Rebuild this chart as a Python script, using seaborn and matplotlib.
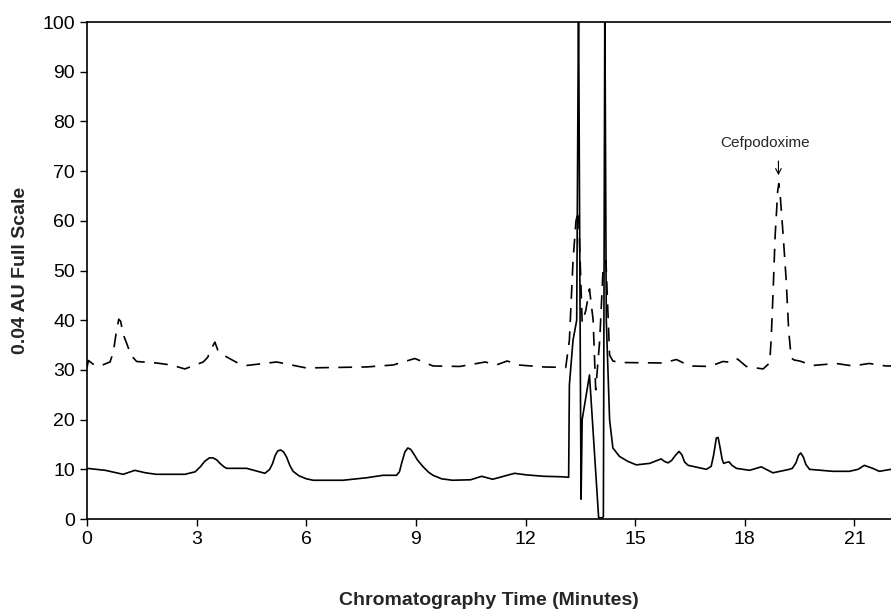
import numpy as np
import pandas as pd
import matplotlib
matplotlib.use("Agg")
import matplotlib.pyplot as plt
import seaborn as sns

# sample trace (solid)
time_solid = [0, 0.5, 0.99, 1.15, 1.31, 1.6, 1.9, 2.68, 2.96, 3.1, 3.22, 3.35, 3.45, 3.55,
              3.64, 3.75, 3.82, 4.37, 4.87, 5.0, 5.08, 5.15, 5.22, 5.3, 5.38, 5.46, 5.55,
              5.64, 5.8, 6.0, 6.19, 7.0, 7.65, 8.1, 8.47, 8.55, 8.62, 8.7, 8.78, 8.86, 8.95,
              9.05, 9.2, 9.35, 9.47, 9.7, 10.0, 10.5, 10.8, 11.1, 11.4, 11.7, 12.0, 12.5,
              13.0, 13.18, 13.2, 13.3, 13.4, 13.45, 13.5, 13.52, 13.55, 13.75, 14.0, 14.1,
              14.13, 14.17, 14.21, 14.3, 14.39, 14.57, 14.8, 15.03, 15.4, 15.71, 15.8, 15.9,
              16.0, 16.1, 16.2, 16.28, 16.35, 16.45, 16.95, 17.08, 17.15, 17.22, 17.27,
              17.32, 17.38, 17.42, 17.5, 17.57, 17.65, 17.77, 18.13, 18.45, 18.77, 19.22,
              19.3, 19.4, 19.47, 19.53, 19.6, 19.67, 19.77, 20.41, 20.86, 21.1, 21.27,
              21.5, 21.68, 22.0]
abs_solid = [10.2, 9.8, 9.0, 9.4, 9.8, 9.3, 9.0, 9.0, 9.5, 10.5, 11.6, 12.3, 12.3, 11.9,
             11.2, 10.5, 10.2, 10.2, 9.2, 10.0, 11.2, 12.8, 13.7, 13.9, 13.5, 12.5, 10.8,
             9.6, 8.7, 8.1, 7.8, 7.8, 8.3, 8.8, 8.8, 9.5, 11.5, 13.5, 14.3, 14.0, 13.0,
             11.8, 10.5, 9.4, 8.8, 8.1, 7.8, 7.9, 8.6, 8.0, 8.6, 9.2, 8.9, 8.6,
             8.5, 8.4, 27.0, 36.0, 40.0, 105.0, 30.0, 4.0, 20.0, 29.0, 0.3, 0.2,
             0.5, 105.0, 40.0, 20.0, 14.3, 12.6, 11.6, 10.9, 11.2, 12.1, 11.6, 11.3,
             11.8, 12.8, 13.6, 12.9, 11.5, 10.8, 10.0, 10.6, 13.0, 16.3, 16.4,
             14.5, 12.0, 11.2, 11.4, 11.5, 10.8, 10.2, 9.8, 10.5, 9.3, 10.0,
             10.2, 11.3, 12.8, 13.3, 12.5, 11.0, 10.0, 9.6, 9.6, 10.0, 10.8,
             10.2, 9.6, 10.0]

# standard trace (dashed)
time_dashed = [0, 0.04, 0.2, 0.36, 0.63, 0.72, 0.8, 0.87, 0.92, 1.0, 1.09, 1.2, 1.36, 1.9,
               2.3, 2.68, 3.18, 3.3, 3.42, 3.5, 3.58, 3.73, 3.9, 4.1, 4.37, 5.19, 6.0, 7.65,
               8.38, 8.97, 9.47, 10.2, 10.9, 11.2, 11.5, 11.8, 12.5, 13.1, 13.2, 13.3, 13.38,
               13.45, 13.55, 13.65, 13.75, 13.85, 13.92, 14.03, 14.12, 14.2, 14.3, 14.39,
               14.57, 15.76, 16.13, 16.49, 17.04, 17.4, 17.68, 17.8, 18.04, 18.5, 18.68,
               18.72, 18.77, 18.83, 18.9, 18.93, 18.97, 19.05, 19.13, 19.2, 19.27, 19.35,
               19.5, 19.86, 20.5, 20.96, 21.4, 21.86, 22.0]
abs_dashed = [30.5, 31.9, 31.0, 30.8, 31.6, 33.5, 37.5, 40.2, 39.8, 37.0, 35.3, 33.0, 31.7,
              31.4, 31.0, 30.2, 31.6, 32.5, 34.5, 35.6, 34.0, 33.0, 32.3, 31.5, 30.9, 31.6,
              30.4, 30.6, 31.0, 32.3, 30.8, 30.7, 31.6, 31.0, 31.8, 31.0, 30.6, 30.5, 36.0,
              52.0, 60.0, 62.0, 39.5, 42.0, 46.3, 40.0, 26.0, 36.0, 50.0, 52.0, 33.0, 31.8,
              31.5, 31.4, 32.1, 30.8, 30.7, 31.7, 31.5, 32.2, 30.7, 30.2, 31.4,
              36.0, 45.0, 57.0, 66.0, 67.5, 65.0, 57.0, 48.3, 38.0, 32.4, 32.0,
              31.8, 30.9, 31.3, 30.8, 31.3, 30.8, 30.8]

xticks = [0, 3, 6, 9, 12, 15, 18, 21]
yticks = list(range(0, 101, 10))

sns.set_style("ticks")
plt.rcParams['font.family'] = ['Liberation Sans', 'DejaVu Sans']

fig = plt.figure(figsize=(8.91, 6.13), dpi=100)
ax = fig.add_axes([0.0976, 0.1533, 0.9024, 0.8107])

df_s = pd.DataFrame({'t': time_solid, 'a': abs_solid})
df_d = pd.DataFrame({'t': time_dashed, 'a': abs_dashed})
sns.lineplot(data=df_s, x='t', y='a', ax=ax, color='black', linewidth=1.2,
             estimator=None, sort=False)
sns.lineplot(data=df_d, x='t', y='a', ax=ax, color='black', linewidth=1.2,
             estimator=None, sort=False, linestyle=(0, (8.3, 5.6)))

ax.set_xlim(0, 22)
ax.set_ylim(0, 100)
ax.set_xticks(xticks)
ax.set_yticks(yticks)
ax.tick_params(labelsize=14, length=5, width=1, colors='black')
ax.spines['right'].set_visible(False)
for s in ['left', 'bottom', 'top']:
    ax.spines[s].set_color('black')
    ax.spines[s].set_linewidth(1.2)

ax.set_xlabel('Chromatography Time (Minutes)', fontsize=14, fontweight='bold', labelpad=32)
ax.set_ylabel('0.04 AU Full Scale', fontsize=14, fontweight='bold', labelpad=10)

#peak label
ax.text(18.55, 74.3, 'Cefpodoxime', fontsize=11, ha='center', va='bottom')
ax.annotate('', xy=(18.92, 68.6), xytext=(18.92, 72.6),
            arrowprops=dict(arrowstyle='->', color='black', lw=0.8))

fig.savefig('out.png', dpi=100)
